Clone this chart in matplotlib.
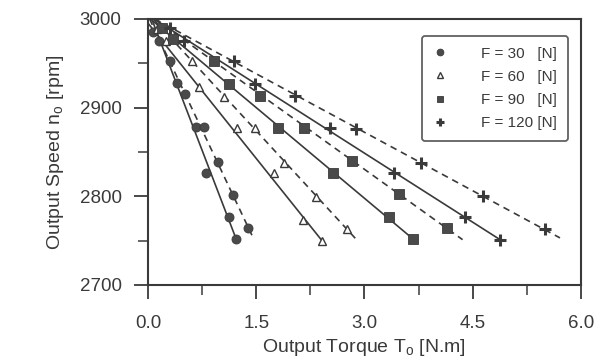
import matplotlib
matplotlib.use('Agg')
import matplotlib.pyplot as plt
from matplotlib.ticker import MultipleLocator, FormatStrFormatter

plt.rcParams['font.family'] = ['Liberation Sans', 'DejaVu Sans']

ink = '#3a3a3a'

# legend labels and markers, one per load F
labels = ['F = 30   [N]', 'F = 60   [N]', 'F = 90   [N]', 'F = 120 [N]']
markers = ['o', '^', 's', '+']

# measured points, solid-line set (torque N.m, speed rpm)
solid_T = [
    [0.07, 0.40, 0.67, 0.80, 1.12, 1.22],
    [0.12, 0.71, 1.23, 1.75, 2.15, 2.41],
    [0.20, 1.12, 1.80, 2.56, 3.34, 3.67],
    [0.30, 1.48, 2.52, 3.41, 4.40, 4.88],
]
solid_n = [
    [2985, 2928, 2878, 2826, 2777, 2752],
    [2988, 2923, 2877, 2826, 2773, 2750],
    [2990, 2926, 2877, 2826, 2776, 2752],
    [2990, 2927, 2877, 2826, 2776, 2751],
]

# measured points, dashed-line set
dashed_T = [
    [0.15, 0.30, 0.51, 0.78, 0.97, 1.18, 1.39],
    [0.25, 0.61, 1.05, 1.48, 1.88, 2.33, 2.76],
    [0.35, 0.91, 1.55, 2.16, 2.83, 3.48, 4.14],
    [0.50, 1.19, 2.04, 2.88, 3.78, 4.64, 5.50],
]
dashed_n = [
    [2975, 2952, 2915, 2878, 2839, 2801, 2764],
    [2975, 2952, 2912, 2877, 2838, 2799, 2763],
    [2977, 2952, 2913, 2877, 2840, 2802, 2764],
    [2975, 2952, 2913, 2876, 2838, 2800, 2763],
]

# fitted straight lines: start and end (torque, speed)
solid_line_T = [[0.05, 1.22], [0.0, 2.41], [0.03, 3.67], [0.08, 4.88]]
solid_line_n = [[3000, 2752], [2995, 2750], [3000, 2752], [3000, 2751]]
dashed_line_T = [[0.02, 1.44], [0.07, 2.89], [0.09, 4.36], [0.09, 5.71]]
dashed_line_n = [[3000, 2756], [3000, 2751], [3000, 2751], [3000, 2753]]

fig = plt.figure(figsize=(5.97, 3.62), dpi=100)
ax = fig.add_axes([0.248, 0.213, 0.725, 0.735])

for i in range(4):
    ax.plot(solid_line_T[i], solid_line_n[i], '-', color=ink, lw=1.2)
    ax.plot(dashed_line_T[i], dashed_line_n[i], '--', color=ink, lw=1.2, dashes=(4, 3))

styles = {
    'o': dict(mfc='#4a4a4a', mec=ink, mew=0.6, ms=6.5),
    '^': dict(mfc='white', mec=ink, mew=1.0, ms=6),
    's': dict(mfc='#4a4a4a', mec=ink, mew=0.6, ms=6.5),
    '+': dict(mec=ink, mew=2.2, ms=8),
}
for i in range(4):
    kw = styles[markers[i]]
    ax.plot(solid_T[i], solid_n[i], ls='none', marker=markers[i], label=labels[i], **kw)
    ax.plot(dashed_T[i], dashed_n[i], ls='none', marker=markers[i], **kw)

ax.set_xlim(0, 6)
ax.set_ylim(2700, 3000)
ax.xaxis.set_major_locator(MultipleLocator(1.5))
ax.xaxis.set_minor_locator(MultipleLocator(0.75))
ax.yaxis.set_major_locator(MultipleLocator(100))
ax.yaxis.set_minor_locator(MultipleLocator(50))
ax.xaxis.set_major_formatter(FormatStrFormatter('%.1f'))

ax.tick_params(which='major', direction='out', length=10, width=1.3, color=ink,
               labelsize=13.5, labelcolor=ink)
ax.tick_params(which='minor', direction='out', length=7, width=1.1, color=ink)
ax.tick_params(axis='x', which='major', pad=12)
ax.tick_params(axis='y', which='major', pad=9)
for s in ax.spines.values():
    s.set_color(ink)
    s.set_linewidth(1.5)

ax.set_xlabel(r'Output Torque T$_\mathregular{o}$ [N.m]', fontsize=14, color=ink, labelpad=3)
ax.set_ylabel(r'Output Speed n$_\mathregular{o}$ [rpm]', fontsize=14, color=ink, labelpad=10)

leg = ax.legend(loc='upper right', bbox_to_anchor=(0.97, 0.936), borderaxespad=0,
                frameon=True, fancybox=True, handletextpad=2.2, labelspacing=0.6,
                fontsize=11, borderpad=0.7, handlelength=1.0, markerscale=0.75)
leg.get_frame().set_edgecolor(ink)
leg.get_frame().set_linewidth(1.3)
for t in leg.get_texts():
    t.set_color(ink)

fig.savefig('out.png', dpi=100)
